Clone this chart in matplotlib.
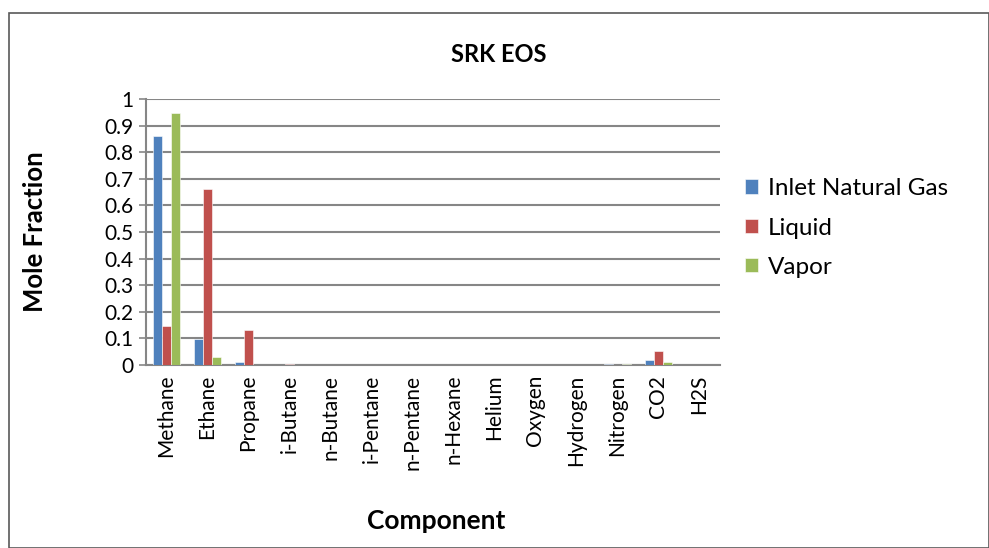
import numpy as np
import matplotlib.pyplot as plt
from matplotlib.patches import Rectangle

plt.rcParams['font.family'] = ['Lato', 'DejaVu Sans']

COMPONENTS = ["Methane", "Ethane", "Propane", "i-Butane", "n-Butane",
              "i-Pentane", "n-Pentane", "n-Hexane", "Helium", "Oxygen",
              "Hydrogen", "Nitrogen", "CO2", "H2S"]
INLET = [0.861, 0.099, 0.0125, 0.0, 0.0, 0.0, 0.0, 0.0, 0.0, 0.0, 0.0,
         0.004, 0.018, 0.0]
LIQUID = [0.147, 0.662, 0.132, 0.003, 0.0, 0.0, 0.0, 0.0, 0.0, 0.0, 0.0,
          0.0, 0.052, 0.0]
VAPOR = [0.948, 0.030, 0.0, 0.0, 0.0, 0.0, 0.0, 0.0, 0.0, 0.0, 0.0,
         0.003, 0.012, 0.0]
SERIES = {"Inlet Natural Gas": INLET, "Liquid": LIQUID, "Vapor": VAPOR}
COLORS = ["#4F81BD", "#C0504D", "#9BBB59"]
GRID = "#868686"

fig = plt.figure(figsize=(9.89, 5.48), dpi=100)
ax = fig.add_axes([146 / 989, 1 - 365 / 548, 574 / 989, 266 / 548])

# Chart-area border
fig.patches.append(Rectangle((9 / 989, 0), 1 - 9 / 989, 1 - 13 / 548,
                             transform=fig.transFigure, fill=False,
                             edgecolor="#595959", linewidth=1.2))

x = np.arange(len(COMPONENTS))
width = 1 / 4.4
for i, (name, vals) in enumerate(SERIES.items()):
    ax.bar(x + (i - 1) * width, vals, width, color=COLORS[i], label=name,
           edgecolor="white", linewidth=0.4, zorder=3)

ax.set_xlim(-0.5, len(COMPONENTS) - 0.5)
ax.set_ylim(0, 1)
ax.set_yticks(np.arange(0, 1.01, 0.1))
ax.set_yticklabels(["0", "0.1", "0.2", "0.3", "0.4", "0.5", "0.6", "0.7",
                    "0.8", "0.9", "1"])
ax.yaxis.grid(True, color=GRID, linewidth=1.5, zorder=0)
ax.set_xticks(x)
ax.set_xticklabels(COMPONENTS, rotation=90, fontsize=15)
ax.tick_params(axis="x", length=0, pad=7)
ax.tick_params(axis="y", length=5, color=GRID, width=1.2, labelsize=15,
               pad=4)
for side in ["top", "right"]:
    ax.spines[side].set_visible(False)
ax.spines["left"].set_color(GRID)
ax.spines["left"].set_linewidth(1.5)
ax.spines["bottom"].set_color(GRID)
ax.spines["bottom"].set_linewidth(1.5)

fig.text(35 / 989, 1 - 232 / 548, "Mole Fraction", rotation=90,
         ha="center", va="center", fontsize=18.5, fontweight="bold")
fig.text(499 / 989, 1 - 54 / 548, "SRK EOS", ha="center", va="center",
         fontsize=17, fontweight="bold")
fig.text(436 / 989, 1 - 521 / 548, "Component", ha="center", va="center",
         fontsize=19, fontweight="bold")

ax.legend(loc="center left", bbox_to_anchor=(1.005, 0.515), frameon=False,
          fontsize=17.5, handlelength=0.55, handleheight=0.55,
          handletextpad=0.4, labelspacing=0.75)

fig.savefig("out.png", dpi=100)
